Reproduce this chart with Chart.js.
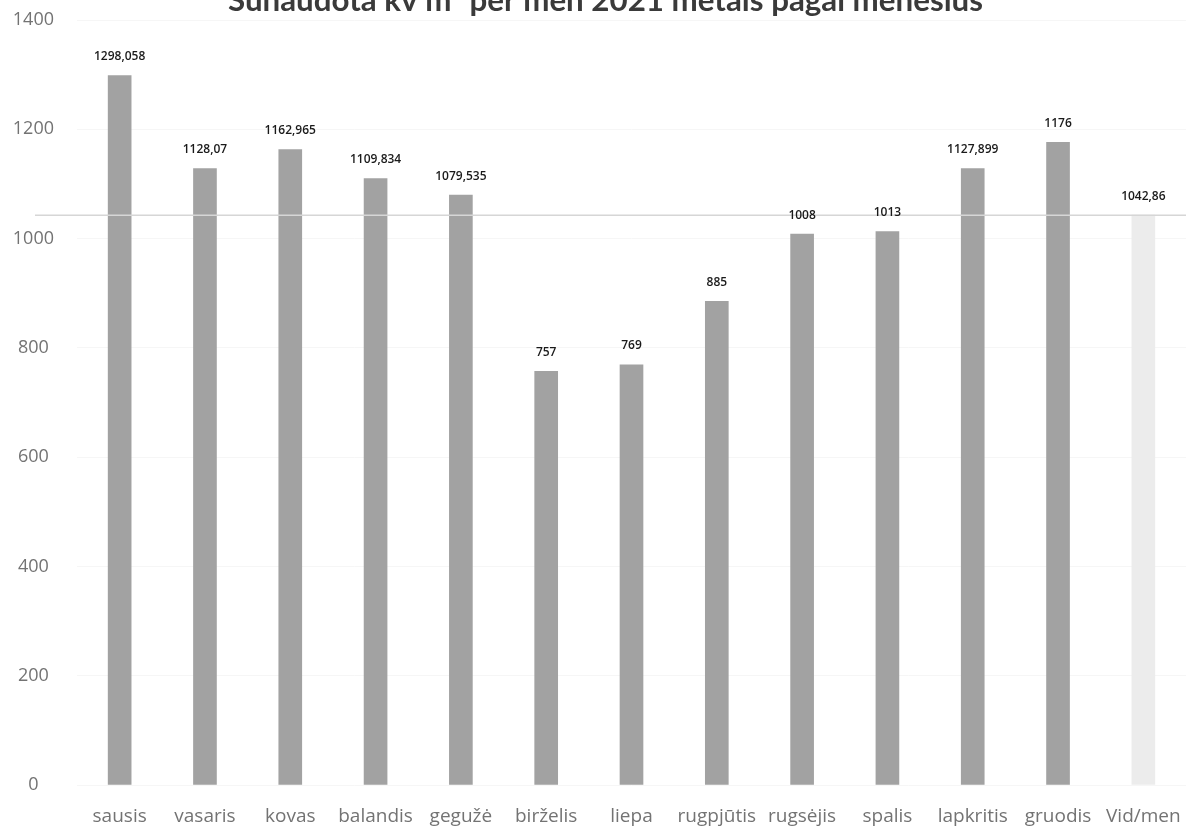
<!DOCTYPE html>
<html>
<head>
<meta charset="utf-8">
<script src="https://cdn.jsdelivr.net/npm/chart.js@4"></script>
<style>
  html, body { margin: 0; padding: 0; background: #fff; overflow: hidden; }
  #wrap { position: absolute; left: 0; top: -17px; width: 1210px; height: 848px; }
</style>
</head>
<body>
<div id="wrap"><canvas id="usageChart"></canvas></div>
<script>
const titleText = 'Sunaudota kv m³ per mėn 2021 metais pagal mėnesius';
const months = ['sausis', 'vasaris', 'kovas', 'balandis', 'gegužė', 'birželis', 'liepa',
  'rugpjūtis', 'rugsėjis', 'spalis', 'lapkritis', 'gruodis', 'Vid/men'];
const usage = [1298.058, 1128.07, 1162.965, 1109.834, 1079.535, 757, 769,
  885, 1008, 1013, 1127.899, 1176, 1042.86];
const averageValue = 1042.86;
const yTicks = [0, 200, 400, 600, 800, 1000, 1200, 1400];

const barColors = months.map((m, i) => i === months.length - 1 ? '#ececec' : '#a2a2a2');

// title drawn by hand, centred over the plot a bit right of the canvas middle
const chartTitle = {
  id: 'chartTitle',
  afterDraw(chart) {
    const ctx = chart.ctx;
    const area = chart.chartArea;
    ctx.save();
    ctx.font = 'bold 31.3px Lato';
    ctx.fillStyle = '#3a3a3a';
    ctx.textAlign = 'center';
    ctx.textBaseline = 'middle';
    ctx.fillText(titleText, (area.left + area.right) / 2 - 26, area.top - 19);
    ctx.restore();
  }
};

// value labels above bars, comma as decimal separator
const valueLabels = {
  id: 'valueLabels',
  afterDatasetsDraw(chart) {
    const ctx = chart.ctx;
    const meta = chart.getDatasetMeta(0);
    ctx.save();
    ctx.font = '600 12px "Open Sans"';
    ctx.fillStyle = '#1a1a1a';
    ctx.textAlign = 'center';
    ctx.textBaseline = 'middle';
    meta.data.forEach((bar, i) => {
      const txt = String(usage[i]).replace('.', ',');
      ctx.fillText(txt, bar.x, bar.y - 19);
    });
    ctx.restore();
  }
};

// horizontal average line
const avgLine = {
  id: 'avgLine',
  afterDatasetsDraw(chart) {
    const ctx = chart.ctx;
    const y = chart.scales.y.getPixelForValue(averageValue);
    ctx.save();
    ctx.strokeStyle = '#d6d6d6';
    ctx.lineWidth = 1.5;
    ctx.beginPath();
    ctx.moveTo(chart.chartArea.left - 42, y);
    ctx.lineTo(chart.chartArea.right, y);
    ctx.stroke();
    ctx.restore();
  }
};

new Chart(document.getElementById('usageChart'), {
  type: 'bar',
  data: {
    labels: months,
    datasets: [{
      data: usage,
      backgroundColor: barColors,
      barThickness: 23
    }]
  },
  options: {
    responsive: true,
    maintainAspectRatio: false,
    animation: false,
    layout: { padding: { left: 0, right: 24, top: 37, bottom: 0 } },
    plugins: {
      legend: { display: false },
      tooltip: { enabled: false },
      title: { display: false }
    },
    scales: {
      x: {
        afterFit: scale => { scale.height = 46; },
        grid: { display: false, drawTicks: true, tickLength: 19 },
        border: { display: false },
        ticks: {
          color: '#737373',
          font: { family: 'Open Sans', size: 19 },
          padding: 1,
          maxRotation: 0,
          autoSkip: false
        }
      },
      y: {
        min: 0,
        max: 1400,
        afterBuildTicks: scale => { scale.ticks = yTicks.map(v => ({ value: v })); },
        afterFit: scale => { scale.width = 77; },
        grid: { color: '#f6f6f6', drawTicks: false },
        border: { display: false },
        ticks: {
          color: '#737373',
          font: { family: 'Open Sans', size: 18 },
          crossAlign: 'center',
          padding: 23,
          callback: v => String(v)
        }
      }
    }
  },
  plugins: [avgLine, valueLabels, chartTitle]
});
</script>
</body>
</html>
